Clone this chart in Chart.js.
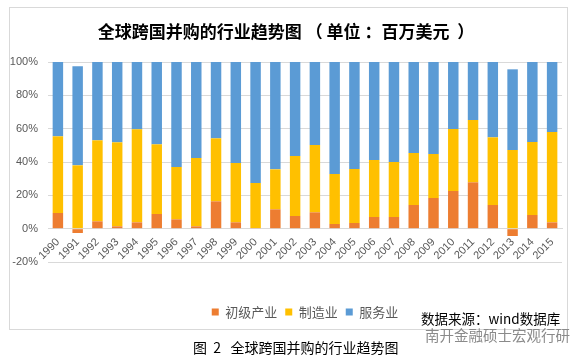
<!DOCTYPE html>
<html>
<head>
<meta charset="utf-8">
<script src="https://cdn.jsdelivr.net/npm/chart.js@4.4.0/dist/chart.umd.min.js"></script>
<style>
  html, body { margin: 0; padding: 0; background: #fff; }
  body { width: 581px; height: 361px; position: relative; overflow: hidden; font-family: "Noto Sans CJK SC", sans-serif; }
  .frame { position: absolute; left: 9px; top: 7px; width: 559px; height: 323px; box-sizing: border-box; border: 1px solid #d9d9d9; }
  #myChart { position: absolute; left: 0; top: 0; }
  .note { position: absolute; white-space: pre; line-height: 1; }
  .source { left: 421px; top: 312px; font-size: 13.5px; color: #000; }
  .mark { left: 425px; top: 328px; font-size: 14.5px; color: #8a8a8a; }
  .caption { left: 193px; top: 340px; font-size: 14px; color: #000; }
</style>
</head>
<body>
<div class="frame"></div>
<canvas id="myChart" width="581" height="361"></canvas>
<div class="note source">数据来源：wind数据库</div>
<div class="note mark">南开金融硕士宏观行研</div>
<div class="note caption">图  2   全球跨国并购的行业趋势图</div>
<script>
// data (shares in %)
const years = ["1990", "1991", "1992", "1993", "1994", "1995", "1996", "1997", "1998", "1999", "2000", "2001", "2002",
  "2003", "2004", "2005", "2006", "2007", "2008", "2009", "2010", "2011", "2012", "2013", "2014", "2015"];
const primary = [9.4, -2.6, 4.4, 1.4, 3.8, 8.8, 5.6, 1.4, 16.4, 3.8, 0.4, 11.6, 7.6,
  9.8, 2.8, 3.4, 7.0, 7.0, 14.2, 18.4, 22.6, 27.8, 14.2, -4.4, 8.2, 3.8];
const manufacturing = [46.0, 38.0, 48.6, 50.4, 55.8, 41.8, 31.4, 41.0, 37.8, 35.6, 27.0, 24.0, 36.0,
  40.4, 30.0, 32.4, 34.2, 33.0, 31.2, 26.4, 37.2, 37.4, 40.6, 47.2, 43.8, 54.2];
const services = [44.6, 59.4, 47.0, 48.2, 40.4, 49.4, 63.0, 57.6, 45.8, 60.6, 72.6, 64.4, 56.4,
  49.8, 67.2, 64.2, 58.8, 60.0, 54.6, 55.2, 40.2, 34.8, 45.2, 48.4, 48.0, 42.0];
const seriesNames = ["初级产业", "制造业", "服务业"];
const yTicks = [-20, 0, 20, 40, 60, 80, 100];

const gridColor = "#d9d9d9";
const textColor = "#595959";

const data = {
  labels: years,
  datasets: [
    { label: seriesNames[0], data: primary, backgroundColor: "#ED7D31" },
    { label: seriesNames[1], data: manufacturing, backgroundColor: "#FFC000" },
    { label: seriesNames[2], data: services, backgroundColor: "#5B9BD5" },
  ],
};

// config
const config = {
  type: "bar",
  data,
  options: {
    responsive: false,
    animation: false,
    datasets: {
      bar: { categoryPercentage: 1, barPercentage: 0.53 },
    },
    layout: {
      padding: { left: 10, right: 19, top: 0, bottom: 32.5 },
    },
    scales: {
      x: {
        stacked: true,
        position: { y: 0 },
        grid: { display: false, drawTicks: false },
        border: { display: true, color: gridColor },
        ticks: {
          autoSkip: false,
          maxRotation: 45,
          minRotation: 45,
          padding: 7,
          color: textColor,
          font: { family: "'Liberation Sans', Arial, sans-serif", size: 11 },
        },
      },
      y: {
        stacked: true,
        min: yTicks[0],
        max: yTicks[yTicks.length - 1],
        afterBuildTicks: (scale) => {
          scale.ticks = yTicks.map((v) => ({ value: v }));
        },
        afterFit: (scale) => {
          scale.width = 38;
        },
        grid: { color: gridColor, drawTicks: false },
        border: { display: false },
        ticks: {
          padding: 10,
          color: textColor,
          font: { family: "'Liberation Sans', Arial, sans-serif", size: 11 },
          callback: (v) => v + "%",
        },
      },
    },
    plugins: {
      tooltip: { enabled: false },
      title: {
        display: true,
        // extra spaces stand in for the full-width punctuation width
        text: "全球跨国并购的行业趋势图 （ 单位 ：百万美元  ）",
        color: "#000",
        font: { family: "'Noto Sans CJK SC', sans-serif", size: 17, weight: "bold" },
        padding: { top: 21, bottom: 20.6 },
      },
      legend: {
        position: "bottom",
        fullSize: false,
        title: { display: true, text: " ", font: { size: 10 }, padding: { top: 23.5, bottom: 0 } },
        labels: {
          boxWidth: 7,
          boxHeight: 7,
          padding: 8,
          color: textColor,
          font: { family: "'Noto Sans CJK SC', sans-serif", size: 13 },
        },
      },
    },
  },
};

// render init block
const myChart = new Chart(document.getElementById("myChart"), config);
</script>
</body>
</html>
